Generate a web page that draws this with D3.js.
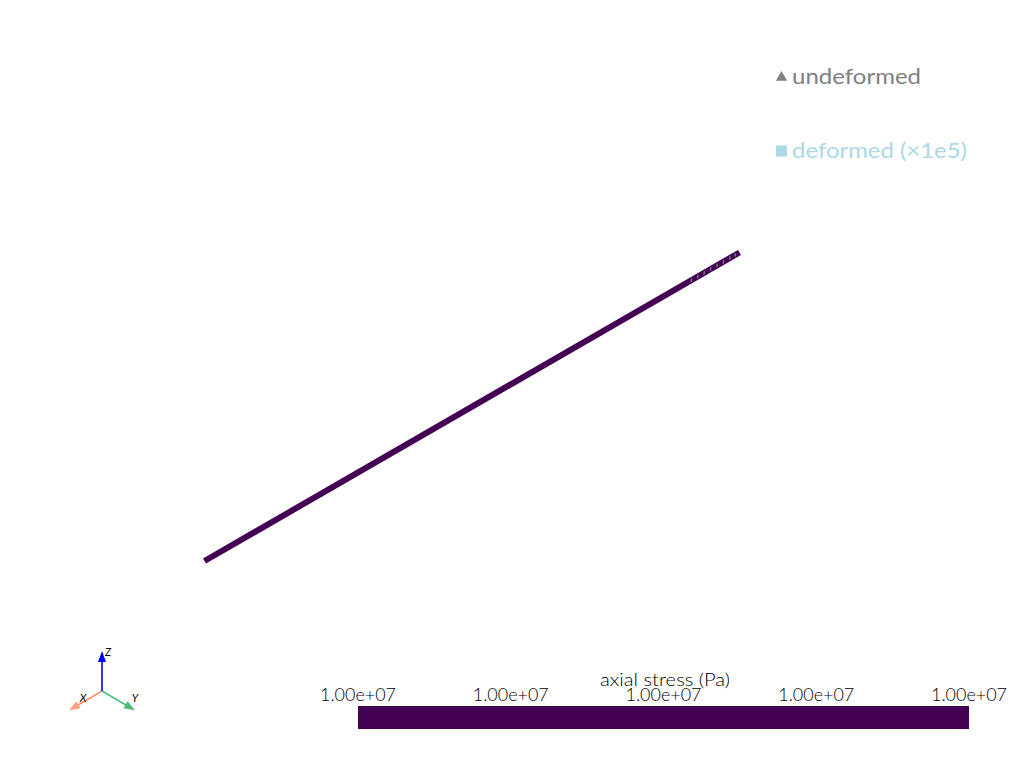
<!DOCTYPE html>
<html><head><meta charset="utf-8">
<script src="https://cdn.jsdelivr.net/npm/d3@7"></script>
<style>html,body{margin:0;padding:0;background:#fff}svg{display:block}text{font-family:Lato,"Open Sans",sans-serif;font-weight:300}</style>
</head><body><div id="c"></div>
<script>
const beamStations=[0,100];
const undeformedStations=[91,92.2,93.4,94.6,95.8,97,98.2,99.2];
const legendLabels=["undeformed","deformed (×1e5)"];
const legendColors=["#808080","#add8e6"];
const legendWidths=[129,175];
const legendMarkers=[d3.symbolTriangle,d3.symbolSquare];
const barTitle="axial stress (Pa)";
const tickFractions=[0,0.25,0.5,0.75,1];
const tickLabels=["1.00e+07","1.00e+07","1.00e+07","1.00e+07","1.00e+07"];
const axisNames=["X","Y","Z"];
const axisColors=["#ff9070","#48c080","#0000ff"];
const axisHeadColors=["#ffa080","#50b878","#0000ff"];
const axisTipsX=[-1,1,0];
const axisTipsY=[-0.58,-0.58,1.2];

const W=1024,H=768;
const svg=d3.select("#c").append("svg").attr("width",W).attr("height",H);
const viridisLow="#440154";

// beam
const bx=d3.scaleLinear().domain([0,100]).range([204.5,739.5]);
const by=d3.scaleLinear().domain([0,100]).range([561,252.5]);
const beamW=6;
svg.append("line").attr("x1",bx(beamStations[0])).attr("y1",by(beamStations[0]))
  .attr("x2",bx(beamStations[1])).attr("y2",by(beamStations[1]))
  .attr("stroke",viridisLow).attr("stroke-width",beamW);
const ang=Math.atan2(by(100)-by(0),bx(100)-bx(0));
const nx=-Math.sin(ang),ny=Math.cos(ang);
svg.append("g").selectAll("line").data(undeformedStations).join("line")
  .attr("x1",d=>bx(d)+nx*2-1.2).attr("y1",d=>by(d)+ny*2)
  .attr("x2",d=>bx(d)-nx*2+1.2).attr("y2",d=>by(d)-ny*2)
  .attr("stroke","#808080").attr("stroke-width",1.4);

// legend
const ly=d3.scaleLinear().domain([0,1]).range([77,151]);
const leg=svg.append("g").selectAll("g").data(legendLabels).join("g");
leg.append("path").attr("d",(d,i)=>d3.symbol(legendMarkers[i],i?121:55)())
  .attr("transform",(d,i)=>`translate(781.5,${ly(i)+(i?0:0.5)})`)
  .attr("fill",(d,i)=>legendColors[i]);
leg.append("text").attr("x",792).attr("y",(d,i)=>ly(i)+7).text(d=>d)
  .attr("font-size",21).style("font-weight",400).attr("fill",(d,i)=>legendColors[i])
  .attr("textLength",(d,i)=>legendWidths[i]).attr("lengthAdjust","spacingAndGlyphs");

// colour bar
const cx=d3.scaleLinear().domain([0,1]).range([358,969]);
svg.append("rect").attr("x",cx(0)).attr("y",706).attr("width",cx(1)-cx(0)).attr("height",23)
  .attr("fill",viridisLow);
svg.append("g").selectAll("text").data(tickFractions).join("text")
  .attr("x",d=>cx(d)).attr("y",701).attr("text-anchor","middle").attr("font-size",18).attr("fill","#000")
  .attr("textLength",76).attr("lengthAdjust","spacingAndGlyphs").text((d,i)=>tickLabels[i]);
svg.append("text").attr("x",665).attr("y",686).attr("text-anchor","middle").attr("font-size",18).attr("fill","#000")
  .attr("textLength",130).attr("lengthAdjust","spacingAndGlyphs").text(barTitle);

// orientation axes
const ax=d3.scaleLinear().domain([-1,1]).range([69,135]);
const ay=d3.scaleLinear().domain([0,1.2]).range([691,651]);
const axes=svg.append("g").selectAll("g").data(axisNames).join("g");
const ox=ax(0),oy=ay(0);
axes.append("line").attr("x1",ox).attr("y1",oy)
  .attr("x2",(d,i)=>ax(axisTipsX[i])-(ax(axisTipsX[i])-ox)*.2)
  .attr("y2",(d,i)=>ay(axisTipsY[i])-(ay(axisTipsY[i])-oy)*.2)
  .attr("stroke",(d,i)=>axisColors[i]).attr("stroke-width",1.6);
axes.append("path").attr("d",(d,i)=>{
  const tx=ax(axisTipsX[i]),ty=ay(axisTipsY[i]),dx=tx-ox,dy=ty-oy,L=Math.hypot(dx,dy),ux=dx/L,uy=dy/L,hl=11,hw=4;
  const bx0=tx-ux*hl,by0=ty-uy*hl;
  return `M${tx},${ty}L${bx0-uy*hw},${by0+ux*hw}L${bx0+uy*hw},${by0-ux*hw}Z`;
}).attr("fill",(d,i)=>axisHeadColors[i]);
axes.append("text")
  .attr("x",(d,i)=>ax(axisTipsX[i])+[14,0,6][i]).attr("y",(d,i)=>ay(axisTipsY[i])+[-8,-8,5][i])
  .attr("text-anchor","middle").attr("font-size",11).attr("font-style","italic").attr("fill","#000")
  .style("font-weight",400).text(d=>d);
</script></body></html>
